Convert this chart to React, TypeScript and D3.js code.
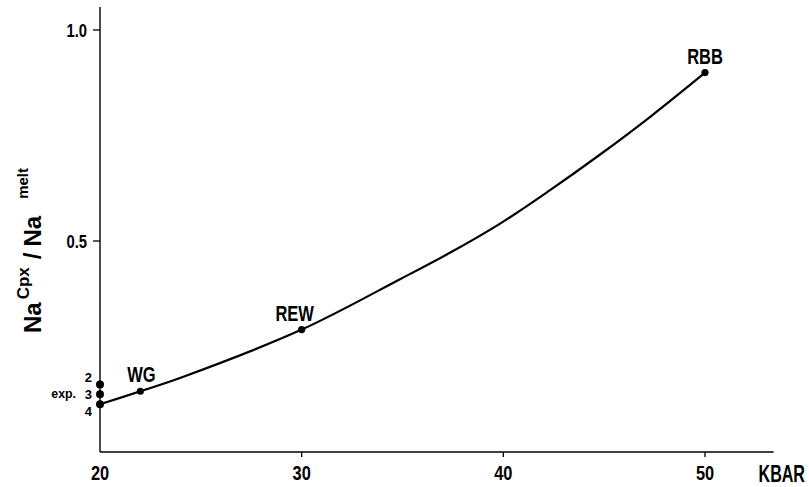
import React from "react";
import * as d3 from "d3";

const W = 809;
const H = 487;

// data
const xTicks = [20, 30, 40, 50];
const yTicks = [0.5, 1.0];
const yTickLabels = ["0.5", "1.0"];
const namedLabels = ["WG", "REW", "RBB"];
const namedX = [22, 30, 50];
const namedY = [0.144, 0.29, 0.899];
const expLabels = ["2", "3", "4"];
const expX = [20, 20, 20];
const expY = [0.16, 0.137, 0.113];
const curveX = [20, 22, 24, 30, 34.9, 37.35, 39.8, 42.3, 44.8, 47.3, 50];
const curveY = [0.113, 0.144, 0.176, 0.29, 0.41, 0.472, 0.54, 0.62, 0.705, 0.795, 0.899];

const FONT = "'Liberation Sans', Arial, sans-serif";

// layout offsets for the stacked experiment labels
const expLabelDy = [-7, 0, 7];
const namedLabelDx = [1, -7, 0];

function T(props: {
  x: number;
  y: number;
  sx?: number;
  size: number;
  anchor?: string;
  weight?: string;
  children: React.ReactNode;
}) {
  const { x, y, sx = 0.78, size, anchor = "middle", weight = "bold", children } = props;
  return (
    <text
      transform={`translate(${x},${y}) scale(${sx},1)`}
      textAnchor={anchor}
      fontSize={size}
      fontWeight={weight}
    >
      {children}
    </text>
  );
}

export default function App() {
  const x = d3.scaleLinear().domain([20, 50]).range([100, 705]);
  const y = d3.scaleLinear().domain([0, 1]).range([452, 30]);
  const xEnd = x(53.4);
  const yTop = 7;

  const pts: [number, number][] = curveX.map((v, i) => [v, curveY[i]]);
  const line = d3
    .line<[number, number]>()
    .x((d) => x(d[0]))
    .y((d) => y(d[1]))
    .curve(d3.curveCatmullRom.alpha(0.5));

  return (
    <svg
      width={W}
      height={H}
      style={{ position: "absolute", left: 0, top: 0, background: "#fff" }}
      fontFamily={FONT}
    >
      {/* axes */}
      <line x1={x(20)} x2={x(20)} y1={yTop} y2={y(0)} stroke="#000" strokeWidth={1.4} />
      <line x1={x(20)} x2={xEnd} y1={y(0)} y2={y(0)} stroke="#000" strokeWidth={1.4} />
      {yTicks.map((t, i) => (
        <g key={"yt" + i}>
          <line x1={x(20) - 7} x2={x(20)} y1={y(t)} y2={y(t)} stroke="#000" strokeWidth={1.3} />
          <T x={87} y={y(t) + 7} size={19} anchor="end">
            {yTickLabels[i]}
          </T>
        </g>
      ))}
      {xTicks.map((t, i) => (
        <g key={"xt" + i}>
          {i > 0 && (
            <line x1={x(t)} x2={x(t)} y1={y(0)} y2={y(0) + 5} stroke="#000" strokeWidth={1.3} />
          )}
          <T x={x(t)} y={480} size={21}>
            {t}
          </T>
        </g>
      ))}
      <T x={805} y={482} size={23} anchor="end" sx={0.7}>
        KBAR
      </T>

      {/* y axis title */}
      <text transform={`translate(41,333) rotate(-90)`} textAnchor="start" fontSize={24} fontWeight="bold">
        Na
        <tspan fontSize={17} dy={-12} dx={3}>Cpx</tspan>
        <tspan fontSize={24} dy={12} dx={8}>/</tspan>
        <tspan fontSize={24} dx={6}>Na</tspan>
        <tspan fontSize={15} dy={-13} dx={17}>melt</tspan>
      </text>

      {/* curve */}
      <path d={line(pts) || ""} fill="none" stroke="#000" strokeWidth={2.2} />

      {/* exp points */}
      {expLabels.map((l, i) => (
        <g key={"e" + i}>
          <circle cx={x(expX[i])} cy={y(expY[i])} r={4} fill="#000" />
          <T x={92} y={y(expY[i]) + 5 + expLabelDy[i]} size={13} anchor="end" sx={1}>
            {l}
          </T>
        </g>
      ))}
      <T x={76} y={y(expY[1]) + 4} size={13} anchor="end" sx={0.95} weight="600">
        exp.
      </T>

      {/* named points */}
      {namedLabels.map((l, i) => (
        <g key={"n" + i}>
          <circle cx={x(namedX[i])} cy={y(namedY[i])} r={3.6} fill="#000" />
          <T x={x(namedX[i]) + namedLabelDx[i]} y={y(namedY[i]) - 9} size={22} sx={0.75}>
            {l}
          </T>
        </g>
      ))}
    </svg>
  );
}
